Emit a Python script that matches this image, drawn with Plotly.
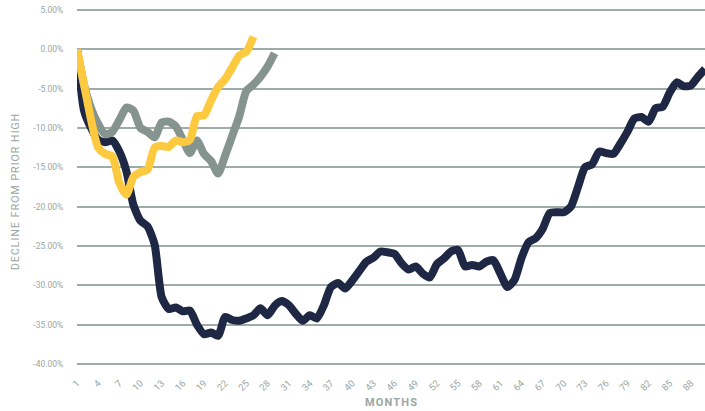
import plotly.graph_objects as go

months_dark = list(range(1, 91))
dark_values = [0, -7.8, -10.0, -11.5, -11.8, -11.6, -13.0, -15.5, -19.8, -21.8,
               -22.5, -24.8, -31.5, -33.0, -32.8, -33.3, -33.2, -35.0, -36.2, -36.0,
               -36.4, -34.0, -34.4, -34.5, -34.2, -33.8, -32.9, -33.8, -32.6, -32.0,
               -32.5, -33.6, -34.5, -33.8, -34.2, -32.5, -30.2, -29.7, -30.4, -29.4,
               -28.2, -27.0, -26.5, -25.7, -25.8, -26.0, -27.2, -28.0, -27.6, -28.5,
               -29.0, -27.3, -26.6, -25.7, -25.5, -27.6, -27.4, -27.6, -27.0, -26.8,
               -28.5, -30.2, -29.3, -26.5, -24.5, -24.0, -22.8, -20.8, -20.7, -20.7,
               -20.0, -17.5, -15.0, -14.6, -13.0, -13.2, -13.3, -12.0, -10.5, -8.8,
               -8.6, -9.2, -7.5, -7.3, -5.5, -4.2, -4.7, -4.6, -3.5, -2.5]

months_grey = list(range(1, 30))
grey_values = [0, -4.5, -7.5, -9.5, -10.8, -10.5, -9.0, -7.4, -7.8, -10.0,
               -10.5, -11.2, -9.3, -9.2, -9.8, -11.5, -13.2, -11.6, -13.3, -14.2,
               -15.8, -13.5, -11.0, -8.5, -5.3, -4.5, -3.5, -2.2, -0.5]

months_yellow = list(range(1, 27))
yellow_values = [0, -4.5, -9.0, -12.5, -13.3, -13.6, -17.0, -18.5, -16.2, -15.6,
                 -15.3, -12.5, -12.3, -12.4, -11.6, -11.8, -11.5, -8.5, -8.4, -6.5,
                 -4.8, -3.8, -2.3, -0.8, -0.3, 1.6]

x_ticks = list(range(1, 89, 3))
y_ticks = [5, 0, -5, -10, -15, -20, -25, -30, -35, -40]
y_tick_labels = [f"{v:.2f}%" for v in y_ticks]

DARK = "#1e2744"
GREY = "#869490"
YELLOW = "#fdc93e"
TEXT = "#9aa6a3"
GRID = "#9eaca8"

fig = go.Figure()
for xs, ys, col in [(months_dark, dark_values, DARK),
                    (months_grey, grey_values, GREY),
                    (months_yellow, yellow_values, YELLOW)]:
    fig.add_trace(go.Scatter(x=xs, y=ys, mode="lines",
                             line=dict(color=col, width=8, shape="spline", smoothing=0.6),
                             showlegend=False, hoverinfo="skip"))

ytitle = "\u200a".join("DECLINE FROM PRIOR HIGH")
xtitle = "\u200a".join("MONTHS")

fig.update_layout(
    width=705, height=411,
    margin=dict(l=77, r=0, t=6, b=43),
    paper_bgcolor="white", plot_bgcolor="white",
    font=dict(family="Roboto", color=TEXT),
    xaxis=dict(range=[1, 90], tickmode="array", tickvals=x_ticks,
               ticktext=[str(v) for v in x_ticks], tickangle=-45,
               tickfont=dict(size=9.5, color=TEXT), showgrid=False, zeroline=False,
               showline=False, ticks="outside", ticklen=5, tickcolor="rgba(0,0,0,0)",
               automargin=False),
    yaxis=dict(range=[-40.5, 5.5], tickmode="array", tickvals=y_ticks,
               ticktext=y_tick_labels, tickfont=dict(size=8.5, color=TEXT),
               showgrid=True, gridcolor=GRID, gridwidth=1.5, zeroline=False,
               showline=False, ticks="outside", ticklen=11, tickcolor="rgba(0,0,0,0)",
               automargin=False),
    annotations=[
        dict(text="<b>" + xtitle + "</b>", xref="paper", yref="paper", x=0.5, y=0,
             xanchor="center", yanchor="middle", yshift=-34, showarrow=False,
             font=dict(size=11, color=TEXT)),
        dict(text=ytitle, xref="paper", yref="paper", x=0, y=0.486,
             xanchor="center", yanchor="middle", xshift=-62, textangle=-90,
             showarrow=False, font=dict(size=10.5, color=TEXT)),
    ],
)

fig.write_html("out.html", config={"displayModeBar": False},
               post_script="document.body.style.margin='0';document.body.style.overflow='hidden';")
